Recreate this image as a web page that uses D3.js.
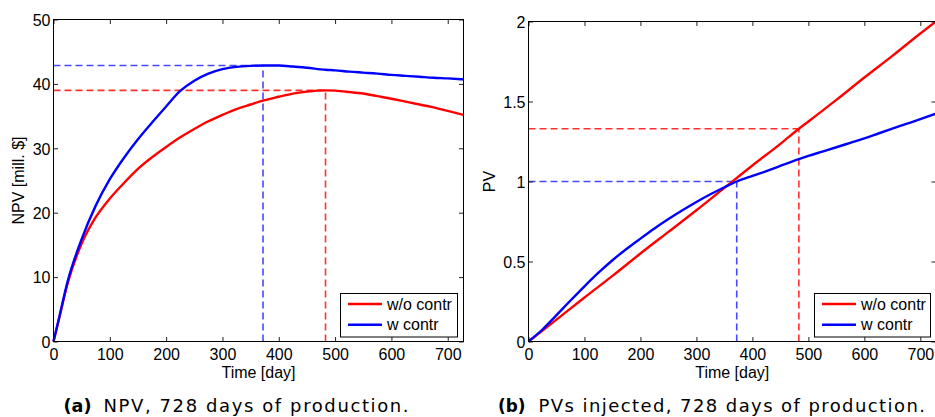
<!DOCTYPE html>
<html><head><meta charset="utf-8">
<script src="https://cdn.jsdelivr.net/npm/d3@7"></script>
<style>html,body{margin:0;padding:0;background:#fff;}svg{display:block;}</style>
</head><body>
<svg id="chart" width="935" height="417"></svg>
<script>
// ---------- data ----------
const seriesNames = ["w/o contr", "w contr"];
const seriesColors = ["#ff0000", "#0000ff"];
const dashColors = ["#ff3030", "#4848ff"];

const npvDays = [0, 10, 25, 50, 75, 100, 125, 150, 175, 200, 225, 250, 275, 300, 325, 350, 372, 400, 425, 450, 483, 500, 525, 550, 575, 600, 625, 650, 675, 700, 728];
const npvWithout = [0, 3.6, 9.0, 15.2, 19.3, 22.2, 24.6, 26.8, 28.6, 30.2, 31.7, 33.0, 34.2, 35.2, 36.1, 36.8, 37.4, 38.0, 38.5, 38.8, 39.0, 38.95, 38.75, 38.5, 38.1, 37.7, 37.25, 36.8, 36.35, 35.8, 35.2];
const npvWith = [0, 3.7, 9.3, 15.9, 21.1, 25.2, 28.5, 31.4, 34.0, 36.5, 38.9, 40.5, 41.6, 42.3, 42.65, 42.8, 42.85, 42.85, 42.7, 42.5, 42.2, 42.1, 41.9, 41.75, 41.6, 41.4, 41.25, 41.1, 40.95, 40.85, 40.7];

const pvDaysWithout = [0, 50, 100, 150, 200, 250, 300, 350, 400, 450, 483, 500, 550, 600, 650, 700, 728];
const pvWithout = [0, 0.137, 0.275, 0.41, 0.55, 0.685, 0.82, 0.96, 1.1, 1.235, 1.33, 1.375, 1.51, 1.65, 1.785, 1.925, 2.0];
const pvDaysWith = [0, 25, 50, 75, 100, 125, 150, 175, 200, 225, 250, 275, 300, 325, 350, 372, 400, 425, 450, 483, 500, 525, 550, 575, 600, 625, 650, 675, 700, 728];
const pvWith = [0, 0.075, 0.165, 0.256, 0.345, 0.43, 0.508, 0.578, 0.643, 0.706, 0.765, 0.82, 0.872, 0.92, 0.964, 1.0, 1.035, 1.065, 1.098, 1.14, 1.16, 1.187, 1.214, 1.242, 1.27, 1.30, 1.33, 1.36, 1.39, 1.425];

// marker (dashed) lines: [w/o contr, w contr]
const markDays = [483, 372];
const npvMarkVals = [39.0, 42.85];
const pvMarkVals = [1.33, 1.0];

const xTicks = [0, 100, 200, 300, 400, 500, 600, 700];
const npvTicks = [0, 10, 20, 30, 40, 50];
const pvTicks = [0, 0.5, 1, 1.5, 2];
const pvTickLabels = ["0", "0.5", "1", "1.5", "2"];

const xLabel = "Time [day]";
const npvLabel = "NPV [mill. $]";
const pvLabel = "PV";
const captionsTag = ["(a)", "(b)"];
const captionsText = ["NPV, 728 days of production.", "PVs injected, 728 days of production."];

// ---------- drawing ----------
const svg = d3.select("#chart");
const FONT = "'Liberation Sans', Arial, Helvetica, sans-serif";
const CAPFONT = "'DejaVu Sans', sans-serif";
const FS = 16;

function panel(cfg) {
  const x = d3.scaleLinear().domain([0, 728]).range([cfg.left, cfg.right]);
  const y = d3.scaleLinear().domain(cfg.yDomain).range([cfg.bottom, cfg.top]);
  const g = svg.append("g");

  // dashed marker lines
  for (let i = 0; i < 2; i++) {
    const c = dashColors[i];
    g.append("line").attr("x1", x(0)).attr("x2", x(markDays[i]))
      .attr("y1", y(cfg.marks[i])).attr("y2", y(cfg.marks[i]))
      .attr("stroke", c).attr("stroke-width", 1.6).attr("stroke-dasharray", "7,4");
    g.append("line").attr("x1", x(markDays[i])).attr("x2", x(markDays[i]))
      .attr("y1", y(0)).attr("y2", y(cfg.marks[i]))
      .attr("stroke", c).attr("stroke-width", 1.6).attr("stroke-dasharray", "7,4");
  }

  // curves
  const line = d3.line().x(d => x(d[0])).y(d => y(d[1])).curve(d3.curveMonotoneX);
  cfg.series.forEach((s, i) => {
    const pts = s.days.map((d, j) => [d, s.vals[j]]);
    g.append("path").attr("d", line(pts)).attr("fill", "none")
      .attr("stroke", seriesColors[i]).attr("stroke-width", 2.4)
      .attr("stroke-linejoin", "round");
  });

  // axes (MATLAB box with inward ticks)
  const tk = 4.5;
  const axB = g.append("g").attr("transform", `translate(0,${cfg.bottom})`)
    .call(d3.axisBottom(x).tickValues(xTicks).tickSizeInner(-tk).tickSizeOuter(0).tickPadding(7));
  const axT = g.append("g").attr("transform", `translate(0,${cfg.top})`)
    .call(d3.axisTop(x).tickValues(xTicks).tickSizeInner(-tk).tickSizeOuter(0).tickFormat(""));
  const axL = g.append("g").attr("transform", `translate(${cfg.left},0)`)
    .call(d3.axisLeft(y).tickValues(cfg.yTicks).tickSizeInner(-tk).tickSizeOuter(0).tickPadding(3)
      .tickFormat((d, i) => cfg.yLabels[i]));
  const axR = g.append("g").attr("transform", `translate(${cfg.right},0)`)
    .call(d3.axisRight(y).tickValues(cfg.yTicks).tickSizeInner(-tk).tickSizeOuter(0).tickFormat(""));
  [axB, axT, axL, axR].forEach(a => {
    a.select(".domain").remove();
    a.selectAll("line").attr("stroke", "#222").attr("stroke-width", 1);
    a.attr("font-family", FONT).attr("font-size", FS);
    a.selectAll("text").attr("fill", "#000");
  });
  axB.selectAll("text").attr("y", 18.3).attr("dy", null);
  axL.selectAll("text").attr("dy", "0.36em");

  g.append("rect").attr("x", cfg.left).attr("y", cfg.top)
    .attr("width", cfg.right - cfg.left).attr("height", cfg.bottom - cfg.top)
    .attr("fill", "none").attr("stroke", "#000").attr("stroke-width", 1);

  // axis titles
  g.append("text").attr("x", (cfg.left + cfg.right) / 2).attr("y", 378)
    .attr("text-anchor", "middle").attr("font-family", FONT).attr("font-size", FS).text(xLabel);
  g.append("text").attr("transform", `translate(${cfg.ylabX},${(cfg.top + cfg.bottom) / 2}) rotate(-90)`)
    .attr("text-anchor", "middle").attr("font-family", FONT).attr("font-size", FS).text(cfg.ylab);

  // legend
  const L = cfg.legend;
  g.append("rect").attr("x", L.x).attr("y", 293.5).attr("width", L.w).attr("height", 43.5)
    .attr("fill", "#fff").attr("stroke", "#000").attr("stroke-width", 1);
  [304, 324.7].forEach((ly, i) => {
    g.append("line").attr("x1", L.x + 7.5).attr("x2", L.x + 41.5).attr("y1", ly).attr("y2", ly)
      .attr("stroke", seriesColors[i]).attr("stroke-width", 2.4);
    g.append("text").attr("x", L.x + 46.5).attr("y", ly + 5.6)
      .attr("font-family", FONT).attr("font-size", FS).text(seriesNames[i]);
  });

  // caption
  g.append("text").attr("x", cfg.cap.tagX).attr("y", 411.5).attr("font-family", CAPFONT)
    .attr("font-weight", "bold").attr("font-size", 18).attr("textLength", cfg.cap.tagW)
    .attr("lengthAdjust", "spacingAndGlyphs").text(cfg.cap.tag);
  g.append("text").attr("x", cfg.cap.textX).attr("y", 411.5).attr("font-family", CAPFONT)
    .attr("font-size", 18).attr("textLength", cfg.cap.textW)
    .attr("lengthAdjust", "spacing").text(cfg.cap.text);
}

panel({
  left: 53.5, right: 463.5, top: 19.5, bottom: 341.5,
  yDomain: [0, 50], yTicks: npvTicks, yLabels: npvTicks.map(String),
  series: [{days: npvDays, vals: npvWithout}, {days: npvDays, vals: npvWith}],
  marks: npvMarkVals, ylab: npvLabel, ylabX: 23.5,
  legend: {x: 340.5, w: 117},
  cap: {tag: captionsTag[0], tagX: 63.5, tagW: 28, text: captionsText[0], textX: 103.5, textW: 305}
});

panel({
  left: 528.5, right: 936, top: 21.5, bottom: 341.5,
  yDomain: [0, 2], yTicks: pvTicks, yLabels: pvTickLabels,
  series: [{days: pvDaysWithout, vals: pvWithout}, {days: pvDaysWith, vals: pvWith}],
  marks: pvMarkVals, ylab: pvLabel, ylabX: 494.5,
  legend: {x: 814.5, w: 116},
  cap: {tag: captionsTag[1], tagX: 498, tagW: 27.5, text: captionsText[1], textX: 538.5, textW: 386.5}
});
</script>
</body></html>
